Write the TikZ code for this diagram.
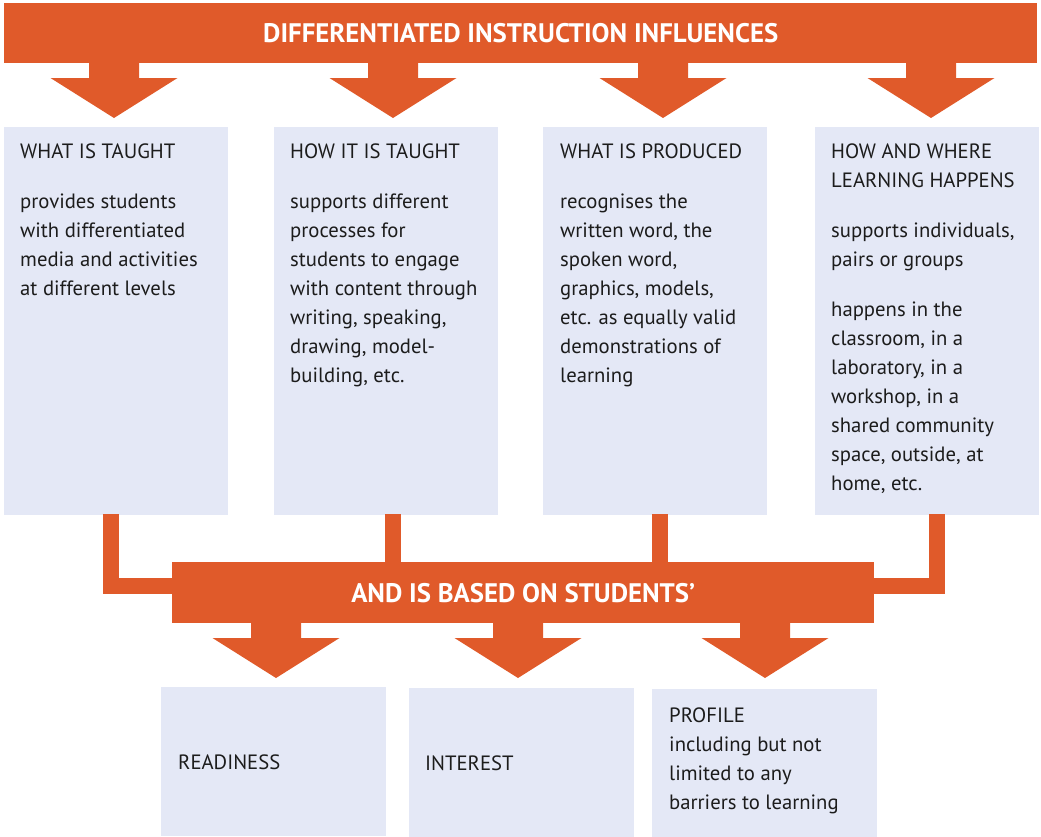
\documentclass[tikz,border=0pt]{standalone}
\usepackage{fontspec}
\setmainfont{PT Sans}
\usetikzlibrary{calc}
\definecolor{orng}{HTML}{E05A2A}
\definecolor{boxfill}{HTML}{E4E8F6}
\definecolor{txt}{HTML}{1C1C1C}
\tikzset{
  banner/.style={fill=orng, inner sep=0pt, anchor=north west, text=white,
    font=\bfseries\fontsize{26.8}{30}\selectfont},
  card/.style={fill=boxfill, inner sep=0pt, anchor=north west},
  topcard/.style={card, minimum width=224pt, minimum height=388pt},
  lowcard/.style={card, minimum width=225pt, minimum height=149pt},
  body/.style={anchor=north west, inner sep=0pt, align=left, text=txt,
    font=\fontsize{20.7}{29}\selectfont},
  conn/.style={draw=orng, line width=16pt},
  bigarrow/.pic={\fill[orng] (-25,-2) -- (25,-2) -- (25,15) -- (63.5,15) -- (0,55) -- (-63.5,15) -- (-25,15) -- cycle;}
}
\newcommand{\firstline}{\rule{0pt}{20pt}}
\begin{document}
\begin{tikzpicture}[x=1pt,y=-1pt]
\useasboundingbox (0,0) rectangle (1041,836);
% banners
\node[banner, minimum width=1033pt, minimum height=60pt] (top) at (4,3) {DIFFERENTIATED INSTRUCTION INFLUENCES};
\node[banner, minimum width=702pt, minimum height=61pt] (mid) at (172,562) {AND IS BASED ON STUDENTS’};
% top cards
\node[topcard] (c1) at (4,127) {};
\node[topcard] (c2) at (274,127) {};
\node[topcard] (c3) at (543,127) {};
\node[topcard] (c4) at (815,127) {};
% bottom cards
\node[lowcard] (b1) at (161,687) {};
\node[lowcard] (b2) at (409,688) {};
\node[lowcard] (b3) at (652,689) {};
% top arrows
\pic at (114,63) {bigarrow};
\pic at (393,63) {bigarrow};
\pic at (663,63) {bigarrow};
\pic at (931,63) {bigarrow};
% bottom arrows
\pic at (276,623) {bigarrow};
\pic at (518,623) {bigarrow};
\pic at (765,623) {bigarrow};
% connectors
\coordinate (k1) at ($(c1.south west)+(107,-1)$);
\coordinate (k2) at ($(c2.south west)+(119,-1)$);
\coordinate (k3) at ($(c3.south west)+(117,-1)$);
\coordinate (k4) at ($(c4.south west)+(122,-1)$);
\draw[conn] (k1) |- ($(mid.north west)+(1,24)$);
\draw[conn] (k2) -- (k2 |- mid.north) -- ++(0,1);
\draw[conn] (k3) -- (k3 |- mid.north) -- ++(0,1);
\draw[conn] (k4) |- ($(mid.north east)+(-1,24)$);
% texts
\node[body] (t1) at (20,138) {\firstline WHAT IS TAUGHT\\[21pt]
provides students\\ with differentiated\\ media and activities\\ at different levels};
\node[body] (t2) at (290,138) {\firstline HOW IT IS TAUGHT\\[21pt]
supports different\\ processes for\\ students to engage\\ with content through\\ writing, speaking,\\ drawing, model-\\ building, etc.};
\node[body] (t3) at (560,138) {\firstline WHAT IS PRODUCED\\[21pt]
recognises the\\ written word, the\\ spoken word,\\ graphics, models,\\ etc. as equally valid\\ demonstrations of\\ learning};
\node[body] (t4) at (831,138) {\firstline HOW AND WHERE\\ LEARNING HAPPENS\\[21pt]
supports individuals,\\ pairs or groups\\[21pt]
happens in the\\ classroom, in a\\ laboratory, in a\\ workshop, in a\\ shared community\\ space, outside, at\\ home, etc.};
\node[body] (r) at (178,749) {\firstline READINESS};
\node[body] (i) at (425,750) {\firstline INTEREST};
\node[body] (p) at (669,702) {\firstline PROFILE\\ including but not\\ limited to any\\ barriers to learning};
\end{tikzpicture}
\end{document}
